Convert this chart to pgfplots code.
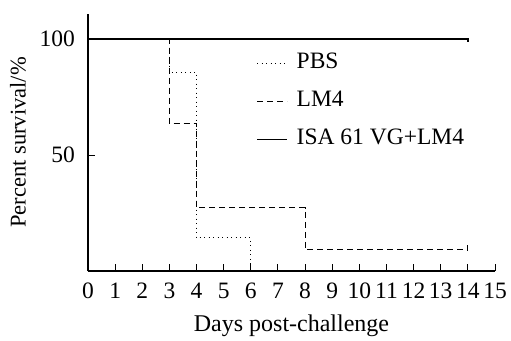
\documentclass[border=0pt]{standalone}
\usepackage{pgfplots}
\pgfplotsset{compat=1.18}
\usepackage{fontspec}
\setmainfont{Liberation Serif}
\begin{document}
\fontsize{23.5}{28}\selectfont
\begin{tikzpicture}
\useasboundingbox (-88pt,-69pt) rectangle (423pt,271pt);
\begin{axis}[
  name=ax,
  at={(0,0)}, anchor=south west,
  scale only axis,
  width=407pt, height=257pt,
  xmin=0, xmax=15, ymin=0, ymax=110.8,
  axis x line=bottom, axis y line=left,
  axis line style={-, line width=1.1pt},
  xtick={0,...,15}, ytick={50,100},
  tick align=inside, major tick length=7pt,
  tick style={black, line width=1pt},
  /pgf/number format/assume math mode=true,
  ticklabel style={font=\fontsize{23.5}{28}\selectfont},
  xticklabel style={yshift=-4pt},
  yticklabel style={xshift=-5pt},
  xlabel={Days post-challenge},
  ylabel={Percent survival/\%},
  xlabel style={font=\fontsize{24}{28}\selectfont, yshift=0pt},
  ylabel style={font=\fontsize{22.5}{27}\selectfont, yshift=-2pt},
  legend style={draw=none, fill=none, inner sep=0pt, at={(axis cs:6.2,95)}, anchor=north west,
    font=\fontsize{23.5}{28}\selectfont, row sep=13pt,
    nodes={text height=16pt, text depth=5pt}},
  legend cell align=left,
  legend image code/.code={\draw[#1] (0pt,0pt) -- (30pt,0pt); \path (37pt,0pt);},
]
\addplot[const plot, black, line width=0.9pt, dash pattern=on 1pt off 3.5pt] coordinates {(0,100) (3,85.7) (4,14.3) (6,0)};
\addlegendentry{PBS}
\addplot[const plot, black, line width=1.1pt, dash pattern=on 6pt off 4pt, mark=|, mark size=3pt, mark indices={5}, mark options={solid, yshift=1.5pt}] coordinates {(0,100) (3,63.6) (4,27.3) (8,9.1) (14,9.1)};
\addlegendentry{LM4}
\addplot[const plot, black, line width=1.3pt, mark=|, mark size=2pt, mark indices={2}, mark options={yshift=-1pt}] coordinates {(0,100) (14,100)};
\addlegendentry{ISA 61 VG+LM4}
\end{axis}
\end{tikzpicture}
\end{document}
